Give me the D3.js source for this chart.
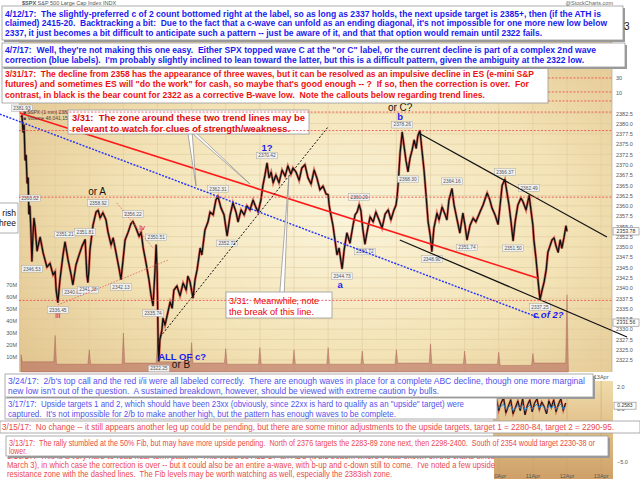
<!DOCTYPE html>
<html>
<head>
<meta charset="utf-8">
<script src="https://cdn.jsdelivr.net/npm/d3@7/dist/d3.min.js"></script>
<style>
  body { margin: 0; background: #fff; }
  svg { display: block; font-family: "Liberation Sans", Arial, sans-serif; }
</style>
</head>
<body>
<div id="chart"></div>
<script>
// SPX 1-minute chart, 21 Mar - 11 Apr 2017, with the daily wave-count notes pasted on top

// sessions shown on the chart (index = start of the session on the time scale)
const sessions = ['21Mar','22Mar','23Mar','24Mar','27Mar','28Mar','29Mar','30Mar','31Mar',
  '3Apr','4Apr','5Apr','6Apr','7Apr','10Apr','11Apr','12Apr','13Apr'];

// price path: [session time, price]
const spx = [
  [0.00,2381.6],[0.03,2381.9],[0.06,2377.9],[0.09,2379.7],[0.12,2371.1],[0.15,2372.3],[0.18,2365.5],
  [0.21,2366.8],[0.23,2358.0],[0.26,2360.0],[0.29,2354.1],[0.32,2346.5],[0.35,2352.9],[0.38,2357.0],
  [0.41,2355.0],[0.47,2349.0],[0.56,2352.4],[0.65,2348.5],[0.76,2345.1],[0.85,2346.0],[0.94,2343.2],[1.00,2344.0],
  [1.03,2339.5],[1.08,2336.5],[1.14,2341.9],[1.23,2348.0],[1.29,2351.2],[1.38,2346.8],[1.47,2343.2],
  [1.52,2340.8],[1.61,2345.6],[1.70,2348.0],[1.79,2350.2],[1.88,2351.8],[1.93,2343.2],[1.96,2341.4],[1.99,2344.4],
  [2.02,2349.2],[2.11,2355.3],[2.20,2358.5],[2.26,2358.9],[2.32,2357.1],[2.40,2358.3],[2.49,2356.6],
  [2.55,2353.6],[2.64,2350.5],[2.70,2352.2],[2.78,2348.8],[2.87,2344.9],[2.93,2342.1],[2.99,2346.8],
  [3.05,2351.7],[3.14,2353.6],[3.22,2355.6],[3.28,2356.2],[3.37,2354.6],[3.46,2352.6],[3.52,2353.6],
  [3.58,2349.8],[3.66,2346.3],[3.75,2342.0],[3.81,2338.3],[3.87,2335.7],[3.93,2344.8],[3.96,2350.5],[3.99,2343.9],
  [4.02,2326.2],[4.04,2322.25],[4.07,2327.4],[4.13,2329.8],[4.16,2332.7],[4.22,2331.0],[4.28,2333.2],
  [4.37,2336.6],[4.43,2335.1],[4.48,2339.5],[4.57,2340.5],[4.66,2338.1],[4.75,2341.2],[4.84,2339.5],
  [4.89,2342.9],[4.95,2341.6],
  [5.04,2337.6],[5.10,2342.0],[5.16,2344.4],[5.25,2349.7],[5.30,2348.1],[5.39,2354.1],[5.48,2356.1],
  [5.54,2358.5],[5.63,2357.8],[5.71,2361.4],[5.77,2362.3],[5.86,2359.5],[5.95,2357.8],
  [6.04,2352.7],[6.13,2357.8],[6.21,2360.7],[6.30,2358.5],[6.36,2356.1],[6.45,2359.0],[6.54,2357.8],
  [6.62,2360.0],[6.71,2359.0],[6.80,2361.4],[6.89,2359.5],[6.95,2358.5],
  [7.03,2361.4],[7.09,2365.0],[7.15,2367.5],[7.21,2370.4],[7.27,2366.8],[7.33,2368.2],[7.39,2365.6],
  [7.47,2367.5],[7.56,2365.6],[7.65,2368.7],[7.74,2367.2],[7.82,2369.7],[7.91,2367.7],[7.97,2369.2],
  [8.06,2368.2],[8.15,2366.2],[8.23,2369.2],[8.32,2370.0],[8.41,2366.8],[8.50,2365.3],[8.59,2368.7],
  [8.67,2366.8],[8.76,2363.9],[8.85,2364.8],[8.94,2362.9],[9.00,2362.7],
  [9.03,2360.2],[9.08,2357.8],[9.14,2355.3],[9.20,2351.7],[9.26,2348.1],[9.32,2349.7],[9.38,2346.3],
  [9.41,2344.7],[9.47,2349.3],[9.55,2353.4],[9.64,2350.9],[9.73,2355.3],[9.79,2357.8],[9.85,2358.5],
  [9.91,2360.3],[9.96,2358.8],
  [10.02,2354.1],[10.08,2350.7],[10.14,2353.6],[10.23,2357.3],[10.32,2356.1],[10.40,2358.5],[10.49,2356.6],
  [10.58,2354.6],[10.67,2358.0],[10.76,2359.0],[10.84,2356.6],[10.93,2359.0],[10.99,2360.2],
  [11.02,2362.1],[11.05,2365.0],[11.11,2373.0],[11.17,2377.9],[11.22,2374.8],[11.28,2371.1],[11.34,2368.3],
  [11.40,2371.6],[11.46,2373.5],[11.52,2376.0],[11.58,2374.0],[11.63,2377.0],[11.69,2378.36],[11.75,2373.5],
  [11.81,2368.7],[11.87,2362.6],[11.93,2356.1],[11.99,2352.9],
  [12.04,2348.9],[12.10,2354.6],[12.19,2358.2],[12.25,2356.6],[12.34,2359.7],[12.43,2357.8],[12.48,2356.6],
  [12.54,2361.4],[12.63,2364.16],[12.69,2360.2],[12.78,2356.6],[12.86,2353.4],[12.95,2358.2],
  [13.01,2355.3],[13.07,2351.7],[13.16,2355.3],[13.25,2357.0],[13.33,2356.1],[13.45,2358.5],[13.54,2360.2],
  [13.66,2363.1],[13.74,2361.4],[13.80,2359.5],[13.89,2357.8],[13.98,2355.5],
  [14.04,2360.2],[14.10,2365.0],[14.18,2366.4],[14.24,2363.3],[14.30,2360.2],[14.36,2356.1],[14.42,2351.5],
  [14.48,2356.1],[14.56,2360.2],[14.65,2361.9],[14.71,2361.0],[14.80,2359.0],[14.89,2362.5],[14.95,2358.5],
  [15.00,2355.3],[15.03,2351.7],[15.09,2347.3],[15.15,2342.0],[15.18,2339.5],[15.21,2337.25],[15.27,2339.5],
  [15.33,2341.5],[15.39,2344.4],[15.44,2348.7],[15.50,2350.2],[15.56,2351.7],[15.62,2352.2],[15.68,2350.2],
  [15.74,2348.7],[15.80,2351.7],[15.85,2349.7],[15.91,2352.2],[15.97,2355.1],[16.00,2353.78]
];

// high / low tags: [time, price, text, +1 above / -1 below]
const swingTags = [
  [0.03,2381.9,'2381.93',1],[0.26,2360.0,'2360.02',1],[0.32,2346.5,'2346.53',-1],
  [1.08,2336.5,'2336.45',-1],[1.29,2351.2,'2351.21',1],[1.52,2340.8,'2340.81',-1],
  [1.88,2351.8,'2351.81',1],[1.96,2341.4,'2341.38',-1],[2.26,2358.9,'2358.92',1],
  [2.93,2342.1,'2342.13',-1],[3.28,2356.2,'2356.22',1],[3.87,2335.7,'2335.74',-1],
  [3.96,2350.5,'2350.51',1],[4.04,2322.25,'2322.25',-1],[5.77,2362.3,'2362.31',1],
  [6.04,2352.7,'2352.72',-1],[7.21,2370.4,'2370.42',1],[9.41,2344.7,'2344.73',-1],
  [9.91,2360.3,'2360.29',1],[10.08,2350.7,'2350.72',-1],[11.17,2377.9,'2378.26',1],
  [11.34,2368.3,'2368.30',-1],[12.04,2348.9,'2348.90',-1],[12.63,2364.16,'2364.16',1],
  [13.07,2351.7,'2351.74',-1],[14.18,2366.4,'2366.37',1],[14.42,2351.5,'2351.50',-1],
  [14.89,2362.5,'2362.49',1],[15.21,2337.25,'2337.25',-1]
];

// volume in millions: spike at each session boundary, typical level inside each session
const volSpike = [12, 28, 16, 30, 24, 22, 17, 18, 16, 18, 15, 16, 21, 15, 14, 13, 62];
const volBase  = [6, 4, 4, 5, 6, 5, 4, 4, 4, 4, 4, 5, 4, 4, 3, 5];

// axis ticks
const priceTicks = [2322.5,2325,2327.5,2330,2332.5,2335,2337.5,2340,2342.5,2345,2347.5,2350,2352.5,
  2355,2357.5,2360,2362.5,2365,2367.5,2370,2372.5,2375,2377.5,2380,2382.5];
const volTicks = [10, 20, 30, 40, 50, 60, 70];
const priceTags = [[2353.78,'2353.78'],[2331.6,'2331.56']];

// dashed resistance / support levels
const levels = [2391.1, 2387.7, 2385.5, 2382.8, 2378.3, 2362.1, 2337.0];

// trend lines [from, to] in [time, price]
const redLine    = [[-0.03,2382.6],[15.15,2342.4]];
const blueLine   = [[-0.62,2382.3],[15.21,2332.7]];
const riseLine   = [[4.01,2327.4],[9.0,2379.2]];
const upperLine  = [[11.72,2377.4],[17.17,2352.4]];
const lowerLine  = [[11.10,2351.7],[17.76,2328.1]];
const ivLine     = [[2.81,2360.7],[3.87,2349.7]];
const iiiLine    = [[1.08,2335.9],[4.31,2346.8]];

// wave labels [text, time, price, count]
const waveLabels = [
  ['or A',2.23,2363.4,'bear'],['iii',1.08,2333.5,'sub'],['iv',3.55,2354.9,'sub'],
  ['1?',7.21,2374.1,'bull'],['or C?',11.11,2384.0,'bear'],['b',11.11,2381.6,'bull'],
  ['a',9.35,2340.8,'bull'],['c of 2?',15.45,2333.5,'bull'],['ALL OF c?',4.72,2323.3,'bull'],
  ['or B',4.69,2321.3,'bear']
];

// indicator panel (lower right)
const oscT = [13.86,13.93,14.0,14.07,14.14,14.21,14.28,14.35,14.42,14.49,14.56,14.63,14.70,14.77,14.84,
  14.91,14.98,15.05,15.12,15.19,15.26,15.33,15.40,15.47,15.54,15.61,15.68,15.75,15.82,15.89,15.96];
const oscBlack = [0.2,0.9,-0.2,0.5,1.0,-0.4,0.2,0.8,-0.5,0.1,0.7,-0.2,0.9,-0.6,0.3,0.8,-0.3,0.5,0.9,-0.1,
  0.6,0.2,-0.5,0.7,0.1,0.8,-0.3,0.4,0.9,-0.2,0.5];
const oscBlue = [0.1,0.3,0.0,0.2,0.4,-0.1,0.1,0.3,-0.2,0.0,0.3,0.0,0.4,-0.2,0.1,0.3,-0.1,0.2,0.4,0.0,
  0.3,0.1,-0.2,0.3,0.0,0.3,-0.1,0.2,0.4,-0.1,0.2];
const oscTicks = [2, 0, -5];

// notes
const note0412 = [
  "4/12/17:  The slightly-preferred c of 2 count bottomed right at the label, so as long as 2337 holds, the next upside target is 2385+, then (if the ATH is",
  "claimed) 2415-20.  Backtracking a bit:  Due to the fact that a c-wave can unfold as an ending diagonal, it's not impossible for one more new low below",
  "2337, it just becomes a bit difficult to anticipate such a pattern -- just be aware of it, and that that option would remain until 2322 fails."
];
const note0407 = [
  "4/7/17:  Well, they're not making this one easy.  Either SPX topped wave C at the \"or C\" label, or the current decline is part of a complex 2nd wave",
  "correction (blue labels).  I'm probably slightly inclined to lean toward the latter, but this is a difficult pattern, given the ambiguity at the 2322 low."
];
const note0331 = [
  "3/31/17:  The decline from 2358 has the appearance of three waves, but it can be resolved as an impulsive decline in ES (e-mini S&P",
  "futures) and sometimes ES will \"do the work\" for cash, so maybe that's good enough -- ?  If so, then the correction is over.  For",
  "contrast, in black is the bear count for 2322 as a corrective B-wave low.  Note the callouts below regarding trend lines."
];
const noteZone = ["3/31:  The zone around these two trend lines may be", "relevant to watch for clues of strength/weakness."];
const noteBreak = ["3/31:  Meanwhile, note", "the break of this line."];
const note0324 = [
  "3/24/17:  2/b's top call and the red i/ii were all labeled correctly.  There are enough waves in place for a complete ABC decline, though one more marginal",
  "new low isn't out of the question.  A sustained breakdown, however, should be viewed with extreme caution by bulls."
];
const note0317 = [
  "3/17/17:  Upside targets 1 and 2, which should have been 23xx (obviously, since 22xx is hard to qualify as an \"upside\" target) were",
  "captured.  It's not impossible for 2/b to make another high, but the pattern has enough waves to be complete."
];
const note0315 = ["3/15/17:  No change -- it still appears another leg up could be pending, but there are some minor adjustments to the upside targets, target 1 = 2280-84, target 2 = 2290-95."];
const note0313 = [
  "3/13/17:  The rally stumbled at the 50% Fib, but may have more upside pending.  North of 2376 targets the 2283-89 zone next, then 2298-2400.  South of 2354 would target 2230-38 or",
  "lower."
];
const note0310 = [
  "3/10/17:  This is a very hard-to-read near-term pattern.  This could be ALL OF an ABC (it did bottom where c was shown on the charts since",
  "March 3), in which case the correction is over -- but it could also be an entire a-wave, with b-up and c-down still to come.  I've noted a few upside",
  "resistance zone with the dashed lines.  The Fib levels may be worth watching as well, especially the 2383ish zone."
];

// ---------------------------------------------------------------
const W = 640, H = 479;
const plot = { left: 19, right: 612, top: 8, bottom: 372 };

const svg = d3.select('#chart').append('svg')
  .attr('width', W).attr('height', H)
  .attr('viewBox', [0, 0, W, H].join(' '));

const x = d3.scaleLinear().domain([0, 16]).range([21, 567]);
const y = d3.scaleLinear().domain([2322.5, 2382.5]).range([360, 113.3]);
const yVol = d3.scaleLinear().domain([0, 70]).range([369, 285]);
const yOsc = d3.scaleLinear().domain([-5, 2]).range([462, 387]);

const defs = svg.append('defs');
const bg = defs.append('radialGradient').attr('id', 'bg')
  .attr('cx', '55%').attr('cy', '58%').attr('r', '68%');
bg.append('stop').attr('offset', '0%').attr('stop-color', '#fbf4da');
bg.append('stop').attr('offset', '55%').attr('stop-color', '#f3e3b6');
bg.append('stop').attr('offset', '100%').attr('stop-color', '#e2c58f');
const bg2 = defs.append('linearGradient').attr('id', 'bg2')
  .attr('x1', 0).attr('x2', 0).attr('y1', 0).attr('y2', 1);
bg2.append('stop').attr('offset', '0%').attr('stop-color', '#f0dcaa');
bg2.append('stop').attr('offset', '100%').attr('stop-color', '#cfa068');

// main panel background
svg.append('rect')
  .attr('x', plot.left).attr('y', plot.top)
  .attr('width', plot.right - plot.left).attr('height', plot.bottom - plot.top)
  .attr('fill', 'url(#bg)');

// grid
svg.append('g').selectAll('line.h').data(priceTicks).join('line')
  .attr('x1', plot.left).attr('x2', plot.right)
  .attr('y1', d => y(d)).attr('y2', d => y(d))
  .attr('stroke', '#dcc79a').attr('stroke-width', 0.5);
svg.append('g').selectAll('line.v').data(sessions).join('line')
  .attr('x1', (d, i) => x(i)).attr('x2', (d, i) => x(i))
  .attr('y1', plot.top).attr('y2', plot.bottom)
  .attr('stroke', '#dcc79a').attr('stroke-width', 0.5)
  .attr('display', (d, i) => x(i) > plot.right ? 'none' : null);

// volume
const volPts = [];
volBase.forEach((b, d) => {
  volPts.push([d, volSpike[d]], [d + 0.04, b], [d + 0.96, b]);
});
volPts.push([16, volSpike[16]], [16.04, 0]);
svg.append('path')
  .datum(volPts)
  .attr('d', d3.area().x(d => x(d[0])).y0(plot.bottom).y1(d => yVol(d[1])))
  .attr('fill', '#b0605a').attr('fill-opacity', 0.55)
  .attr('stroke', '#953838').attr('stroke-opacity', 0.5).attr('stroke-width', 0.6);

// price
const priceLine = d3.line().x(d => x(d[0])).y(d => y(d[1]));
svg.append('path').datum(spx).attr('d', priceLine)
  .attr('fill', 'none').attr('stroke', '#d01010').attr('stroke-width', 2.6).attr('stroke-opacity', 0.55);
svg.append('path').datum(spx).attr('d', priceLine)
  .attr('fill', 'none').attr('stroke', '#111').attr('stroke-width', 1.3).attr('stroke-linejoin', 'round');

// high/low tags
const tags = svg.append('g').selectAll('g').data(swingTags).join('g')
  .attr('transform', d => `translate(${x(d[0])},${y(d[1]) - d[3] * 7.5})`);
tags.append('rect').attr('x', -10.5).attr('y', -3.3).attr('width', 21).attr('height', 6.6)
  .attr('fill', '#f1f1f1').attr('stroke', '#999').attr('stroke-width', 0.4);
tags.append('text').attr('text-anchor', 'middle').attr('dy', '0.35em')
  .attr('font-size', 4.8).attr('fill', '#555').text(d => d[2]);

// trend lines
function seg(pts, stroke, width, dash) {
  svg.append('line')
    .attr('x1', x(pts[0][0])).attr('y1', y(pts[0][1]))
    .attr('x2', x(pts[1][0])).attr('y2', y(pts[1][1]))
    .attr('stroke', stroke).attr('stroke-width', width)
    .attr('stroke-dasharray', dash || null);
}
seg(ivLine, '#e06060', 0.8, '1.5,1.5');
seg(iiiLine, '#e06060', 0.8, '1.5,1.5');
seg(blueLine, '#2030ff', 1.4, '2,1.4');
seg(redLine, '#ff1a1a', 1.6);
seg(riseLine, '#111', 1, '2,1.8');
seg(upperLine, '#111', 1.2);
seg(lowerLine, '#111', 1.2);

// wave labels
const waveStyle = {
  bull: { fill: '#1c1cf0', size: 9.5, weight: 'bold' },
  bear: { fill: '#111', size: 10, weight: 'normal' },
  sub:  { fill: '#e01010', size: 8, weight: 'normal' }
};
svg.append('g').selectAll('text').data(waveLabels).join('text')
  .attr('x', d => x(d[1])).attr('y', d => y(d[2]))
  .attr('dy', '0.35em').attr('text-anchor', 'middle')
  .attr('fill', d => waveStyle[d[3]].fill)
  .attr('font-size', d => waveStyle[d[3]].size)
  .attr('font-weight', d => waveStyle[d[3]].weight)
  .attr('font-style', d => d[0].startsWith('c of') ? 'italic' : null)
  .text(d => d[0]);

// left cut-off note
svg.append('rect').attr('x', -6).attr('y', 203).attr('width', 24).attr('height', 30)
  .attr('fill', '#fff').attr('stroke', '#999').attr('stroke-width', 0.8);
svg.append('g').selectAll('text').data(['rish', 'three']).join('text')
  .attr('x', 16).attr('y', (d, i) => 216 + i * 9.5).attr('text-anchor', 'end')
  .attr('font-size', 8.5).attr('fill', '#111').text(d => d);

// axes
const yAxis = svg.append('g').attr('transform', `translate(${plot.right},0)`)
  .call(d3.axisRight(y).tickValues(priceTicks).tickSize(0).tickPadding(4).tickFormat(d3.format('.1f')));
yAxis.select('.domain').remove();
yAxis.attr('font-size', 5.5).attr('font-family', null).selectAll('text').attr('fill', '#555');

const vAxis = svg.append('g').attr('transform', `translate(${plot.left},0)`)
  .call(d3.axisLeft(yVol).tickValues(volTicks).tickSize(0).tickPadding(2).tickFormat(d => d + 'M'));
vAxis.select('.domain').remove();
vAxis.attr('font-size', 5.5).attr('font-family', null).selectAll('text').attr('fill', '#555');

svg.append('line').attr('x1', plot.right).attr('x2', plot.right).attr('y1', plot.top).attr('y2', plot.bottom)
  .attr('stroke', '#b0a080').attr('stroke-width', 0.6);

// overlay ticks of the chart pasted behind the top notes
svg.append('g').selectAll('text').data([[2391.1, '30'], [2387.3, '10']]).join('text')
  .attr('x', plot.right + 4).attr('y', d => y(d[0])).attr('dy', '0.35em')
  .attr('font-size', 5.5).attr('fill', '#555').text(d => d[1]);

const ptag = svg.append('g').selectAll('g').data(priceTags).join('g')
  .attr('transform', d => `translate(${plot.right + 1},${y(d[0])})`);
ptag.append('rect').attr('x', 0).attr('y', -3.6).attr('width', 26).attr('height', 7.2)
  .attr('fill', '#fff').attr('stroke', '#666').attr('stroke-width', 0.5);
ptag.append('text').attr('x', 13).attr('dy', '0.35em').attr('text-anchor', 'middle')
  .attr('font-size', 5.2).attr('fill', '#333').text(d => d[1]);

svg.append('text').attr('x', x(17)).attr('y', 379).attr('text-anchor', 'middle')
  .attr('font-size', 5.5).attr('fill', '#555').text(sessions[17]);

// legend lines of the price panel
svg.append('text').attr('x', 23).attr('y', 113.5).attr('font-size', 5).attr('fill', '#444')
  .text('\u25A0 $SPX (1 min) 2382.30');
svg.append('text').attr('x', 23).attr('y', 119.5).attr('font-size', 5).attr('fill', '#444')
  .text('\u25A0 Volume 48,041,152');

// callouts
function wedge(bx, by, tip) {
  const tx = x(tip[0]), ty = y(tip[1]);
  svg.append('path')
    .attr('d', `M${bx - 2.2},${by} L${tx},${ty} L${bx + 2.2},${by}`)
    .attr('fill', '#fff').attr('stroke', '#8a8a8a').attr('stroke-width', 0.7);
}
function noteBox(lines, b) {
  const g = svg.append('g');
  if (b.shadow) g.append('rect').attr('x', b.x + 2).attr('y', b.y + 2)
    .attr('width', b.w).attr('height', b.h).attr('fill', '#9a9a9a');
  if (b.fill !== false) g.append('rect').attr('x', b.x).attr('y', b.y)
    .attr('width', b.w).attr('height', b.h)
    .attr('fill', '#fff').attr('stroke', b.border ? '#9a9a9a' : 'none').attr('stroke-width', 0.8);
  g.selectAll('text').data(lines).join('text')
    .attr('x', b.x + (b.pad || 3))
    .attr('y', (d, i) => b.y + b.first + i * b.step)
    .attr('textLength', (d, i) => b.widths[i])
    .attr('lengthAdjust', 'spacingAndGlyphs')
    .attr('fill', b.color).attr('font-size', b.size)
    .attr('font-weight', b.weight || 'normal')
    .style('white-space', 'pre')
    .text(d => d);
}

wedge(190, 133, [5.13, 2364.8]);
wedge(194, 133, [6.71, 2365.3]);
noteBox(noteZone, { x: 68, y: 110, w: 241, h: 24, first: 10.5, step: 11, widths: [233, 218],
  pad: 4, color: '#dd0a0a', size: 9, weight: 'bold', border: true });
wedge(282, 293, [7.85, 2367.3]);
noteBox(noteBreak, { x: 226, y: 292, w: 106, h: 26, first: 12, step: 10.5, widths: [90, 85],
  pad: 3, color: '#e00', size: 8.8, border: true });

// dashed levels drawn over the callouts, as in the original
svg.append('g').selectAll('line').data(levels).join('line')
  .attr('x1', plot.left).attr('x2', plot.right)
  .attr('y1', d => y(d)).attr('y2', d => y(d))
  .attr('stroke', '#ee4444').attr('stroke-width', 0.8).attr('stroke-dasharray', '2,1.6');

// lower-right indicator panel
svg.append('rect').attr('x', 493).attr('y', 381).attr('width', 120).attr('height', 98)
  .attr('fill', 'url(#bg2)');
svg.append('g').selectAll('line').data(sessions.slice(14)).join('line')
  .attr('x1', (d, i) => x(14 + i)).attr('x2', (d, i) => x(14 + i))
  .attr('y1', 381).attr('y2', 479).attr('stroke', '#c99e66').attr('stroke-width', 0.5);
const oscBlackPts = oscT.map((t, i) => [t, oscBlack[i]]);
const oscBluePts = oscT.map((t, i) => [t, oscBlue[i]]);
const oscLine = d3.line().x(d => x(d[0])).y(d => yOsc(d[1]));
svg.append('path').datum(oscBlackPts).attr('d', oscLine).attr('fill', 'none')
  .attr('stroke', '#c01010').attr('stroke-width', 2).attr('stroke-opacity', 0.6);
svg.append('path').datum(oscBlackPts).attr('d', oscLine).attr('fill', 'none')
  .attr('stroke', '#111').attr('stroke-width', 1);
svg.append('path').datum(oscBluePts).attr('d', oscLine).attr('fill', 'none')
  .attr('stroke', '#2a8ad0').attr('stroke-width', 1);
const oAxis = svg.append('g').attr('transform', 'translate(613,0)')
  .call(d3.axisRight(yOsc).tickValues(oscTicks).tickSize(0).tickPadding(4));
oAxis.select('.domain').remove();
oAxis.attr('font-size', 5.5).attr('font-family', null).selectAll('text').attr('fill', '#555');
svg.append('rect').attr('x', 614).attr('y', yOsc(0.26) - 3.5).attr('width', 22).attr('height', 7)
  .attr('fill', '#fff').attr('stroke', '#666').attr('stroke-width', 0.5);
svg.append('text').attr('x', 625).attr('y', yOsc(0.26)).attr('dy', '0.35em').attr('text-anchor', 'middle')
  .attr('font-size', 5).attr('fill', '#333').text('0.2583');
svg.append('g').selectAll('text').data(sessions.slice(14)).join('text')
  .attr('x', (d, i) => x(14 + i)).attr('y', 478).attr('text-anchor', 'middle')
  .attr('font-size', 5.5).attr('fill', '#555').text(d => d);

// bottom notes
noteBox(note0324, { x: 5, y: 374, w: 588, h: 23, first: 9.5, step: 10.5, widths: [577, 431],
  color: '#5252ee', size: 8.2, border: true, shadow: true });
noteBox(note0317, { x: 5, y: 398, w: 492, h: 21, first: 9, step: 10, widths: [456, 388],
  color: '#5252ee', size: 8.2, border: true });
noteBox(note0315, { x: 0, y: 421, w: 640, h: 12, first: 9, step: 10, widths: [612],
  pad: 2, color: '#ec4a4a', size: 8.2, border: true });
noteBox(note0310, { x: 0, y: 446, w: 494, h: 33, first: 13, step: 8.8, widths: [488, 488, 385],
  pad: 7, color: '#ec4a4a', size: 8.2 });
noteBox(note0313, { x: 6, y: 436, w: 602, h: 20, first: 9.5, step: 8.3, widths: [586, 18],
  color: '#ec4a4a', size: 8.2, border: true, shadow: true });

// top notes
noteBox(note0331, { x: 2, y: 68, w: 546, h: 35, first: 8.8, step: 10.6, widths: [529, 524, 480],
  color: '#ee1111', size: 8.6, weight: 'bold', border: true });
noteBox(note0407, { x: 2, y: 43, w: 623, h: 24, first: 10, step: 10, widths: [591, 579],
  color: '#1a1af0', size: 8.6, weight: 'bold', border: true, shadow: true });
noteBox(note0412, { x: 2, y: 6, w: 621, h: 34, first: 10.6, step: 9.8, widths: [596, 602, 537],
  color: '#1a1af0', size: 8.6, weight: 'bold', border: true, shadow: true });

// header of the pasted chart
const head = svg.append('text').attr('x', 22).attr('y', 5).attr('font-size', 5.5).attr('fill', '#555');
head.append('tspan').attr('font-weight', 'bold').text('$SPX ');
head.append('tspan').text('S&P 500 Large Cap Index  INDX');
svg.append('text').attr('x', 613).attr('y', 5).attr('text-anchor', 'end')
  .attr('font-size', 5.5).attr('fill', '#666').text('@StockCharts.com');
svg.append('text').attr('x', 624).attr('y', 30).attr('font-size', 10).attr('fill', '#111').text('3');
</script>
</body>
</html>
